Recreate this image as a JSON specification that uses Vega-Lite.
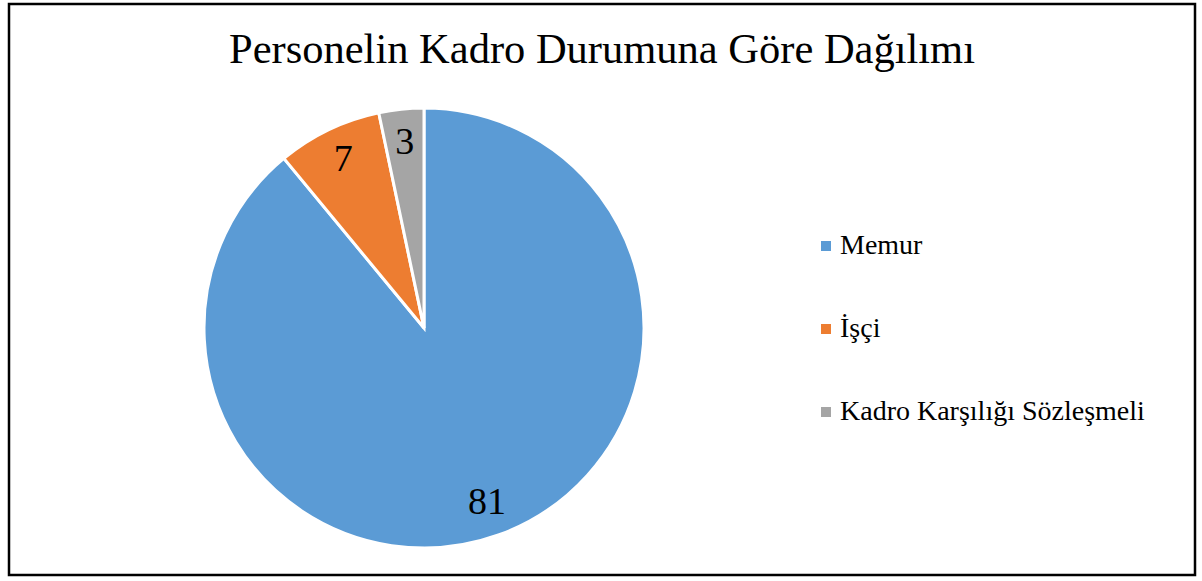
{
  "$schema": "https://vega.github.io/schema/vega-lite/v6.json",
  "autosize": {"type": "fit", "contains": "padding"},
  "width": 1202,
  "height": 581,
  "padding": {"left": 7, "top": 2, "right": 5, "bottom": 4},
  "background": "white",
  "title": {
    "text": "Personelin Kadro Durumuna Göre Dağılımı",
    "font": "Liberation Serif",
    "fontSize": 42.5,
    "fontWeight": "normal",
    "color": "black",
    "anchor": "middle",
    "baseline": "alphabetic",
    "offset": 0,
    "dy": 103
  },
  "config": {
    "view": {"stroke": null}
  },
  "encoding": {
    "theta": {"field": "deger", "type": "quantitative", "stack": true},
    "order": {"field": "sira", "type": "quantitative"},
    "color": {
      "field": "kategori",
      "type": "nominal",
      "sort": ["Memur", "İşçi", "Kadro Karşılığı Sözleşmeli"],
      "scale": {
        "domain": ["Memur", "İşçi", "Kadro Karşılığı Sözleşmeli"],
        "range": ["#5B9BD5", "#ED7D31", "#A5A5A5"]
      },
      "legend": {
        "title": null,
        "orient": "none",
        "legendX": 803,
        "legendY": 228,
        "symbolType": "square",
        "symbolSize": 100,
        "symbolStrokeWidth": 0,
        "labelFont": "Liberation Serif",
        "labelFontSize": 28,
        "labelColor": "black",
        "labelOffset": 0,
        "rowPadding": 55,
        "labelLimit": 400
      }
    }
  },
  "layer": [
    {
      "data": {"values": [{"cerceve": 1}]},
      "mark": {"type": "rect", "fill": null, "stroke": "black", "strokeWidth": 2.5},
      "encoding": {"theta": null, "order": null, "color": null}
    },
    {
      "data": {
        "values": [
          {"kategori": "Memur", "deger": 81, "sira": 1},
          {"kategori": "İşçi", "deger": 7, "sira": 2},
          {"kategori": "Kadro Karşılığı Sözleşmeli", "deger": 3, "sira": 3}
        ]
      },
      "layer": [
        {
          "mark": {"type": "arc", "outerRadius": 220, "x": 415, "y": 324, "stroke": "white", "strokeWidth": 3}
        },
        {
          "mark": {"type": "text", "radius": 186, "x": 415, "y": 324, "font": "Liberation Serif", "fontSize": 38, "color": "black", "baseline": "middle", "align": "center"},
          "encoding": {
            "text": {"field": "deger", "type": "quantitative"},
            "color": {"value": "black"}
          }
        }
      ]
    }
  ]
}
